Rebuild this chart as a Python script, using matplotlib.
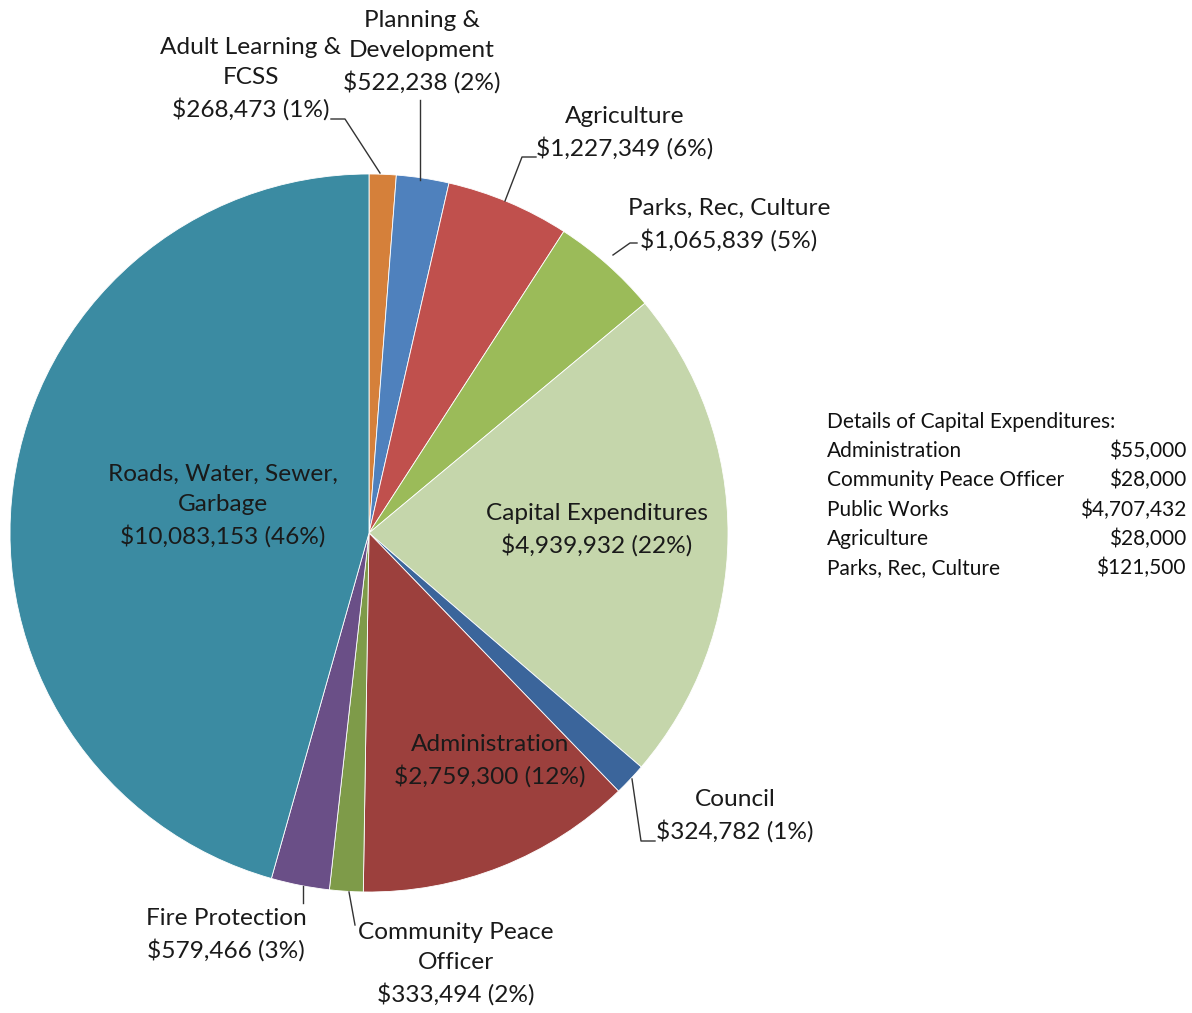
import matplotlib
matplotlib.use("Agg")
import matplotlib.pyplot as plt

categories = ["Adult Learning &\nFCSS", "Planning &\nDevelopment", "Agriculture",
              "Parks, Rec, Culture", "Capital Expenditures", "Council", "Administration",
              "Community Peace\nOfficer", "Fire Protection", "Roads, Water, Sewer,\nGarbage"]
values = [268473, 522238, 1227349, 1065839, 4939932, 324782, 2759300, 333494, 579466, 10083153]
colors = ["#D5803A", "#4F81BD", "#C0504D", "#9BBB59", "#C5D6AB", "#3B659B",
          "#9C403D", "#7E9B49", "#6A4F87", "#3B8BA2"]

detail_items = ["Administration", "Community Peace Officer", "Public Works", "Agriculture", "Parks, Rec, Culture"]
detail_values = ["$55,000", "$28,000", "$4,707,432", "$28,000", "$121,500"]

W, H = 1192, 1013
plt.rcParams['font.family'] = ['Lato', 'DejaVu Sans']
fig = plt.figure(figsize=(W / 100, H / 100), dpi=100)
ax = fig.add_axes([0, 0, 1, 1])
ax.set_xlim(0, W)
ax.set_ylim(0, H)
ax.set_aspect('equal')
ax.axis('off')

def Y(y):
    return H - y

cx, cy, r = 369, 533, 359
ax.pie(values, colors=colors, startangle=90, counterclock=False, center=(cx, Y(cy)),
       radius=r, wedgeprops=dict(linewidth=0.6, edgecolor='white'), frame=False)
ax.set_xlim(0, W)
ax.set_ylim(0, H)

total = sum(values)
labels = [f"{c}\n${v:,} ({round(100 * v / total):.0f}%)" for c, v in zip(categories, values)]

fs = 17.6
lab_pos = [(251, 79), (422, 52), (625, 133), (729, 225), (597, 530),
           (735, 816), (490, 761), (456, 964), (226, 935), (223, 506)]
for lab, (x, y) in zip(labels, lab_pos):
    ax.text(x, Y(y), lab, ha='center', va='center', fontsize=fs, color='#1a1a1a',
            linespacing=1.52)

leaders = [
    [(331, 119), (345, 119), (380, 173)],
    [(420, 100), (420, 180)],
    [(536, 157), (522, 157), (505, 201)],
    [(637, 243), (630, 243), (613, 255)],
    [(655, 841), (641, 841), (632, 779)],
    [(355, 925), (349, 892)],
    [(303, 903), (303, 886)],
]
for pts in leaders:
    ax.plot([p[0] for p in pts], [Y(p[1]) for p in pts], color='#333333', lw=1.0)

dfs = 15.0
ax.text(827, Y(422), "Details of Capital Expenditures:", ha='left', va='center',
        fontsize=dfs, color='#111111')
for i, (it, v) in enumerate(zip(detail_items, detail_values)):
    yy = 451 + i * 29.3
    ax.text(827, Y(yy), it, ha='left', va='center', fontsize=dfs, color='#111111')
    ax.text(1186, Y(yy), v, ha='right', va='center', fontsize=dfs, color='#111111')

fig.savefig("out.png", dpi=100)
